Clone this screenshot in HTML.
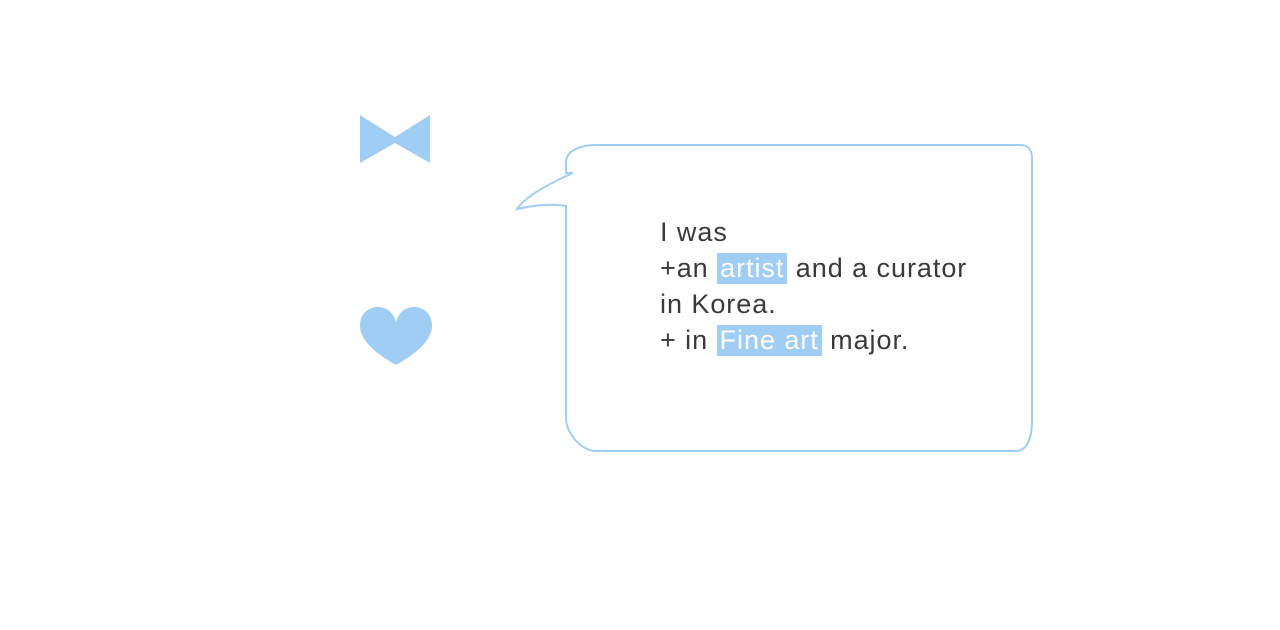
<!DOCTYPE html>
<html><head><style>
html,body{margin:0;padding:0;background:#fff;width:1280px;height:630px;overflow:hidden}
.t{position:absolute;left:660px;top:214px;font-family:"Liberation Sans",sans-serif;font-size:27px;line-height:36px;color:#3a3a3a;letter-spacing:0.95px;word-spacing:0px;white-space:nowrap}
.h{background:#a0cdf4;color:#fff;padding:0 3px 1px 3px}
</style></head><body>
<svg width="1280" height="630" style="position:absolute;left:0;top:0">
<polygon points="360,115 395,137 430,115 430,163 395,143 360,163" fill="#a0cdf4"/>
<path d="M396,365 C380,356 360,342 360,326 C360,312 370,307 378,307 C388,307 394,314 396,322 C398,314 404,307 414,307 C422,307 432,312 432,326 C432,342 412,356 396,365 Z" fill="#a0cdf4"/>
<path d="M573,173 L566,173 L566,162 C566,152 578,145 596,145 L1020,145 C1028,145 1032,150 1032,158 L1032,420 C1032,440 1026,451 1016,451 L596,451 C582,451 566,434 566,418 L566,206 C552,203 530,206 517,209 C526,196 548,184 573,173" fill="none" stroke="#a0cdf4" stroke-width="2"/>
</svg>
<div class="t">I was<br>+an <span class="h">artist</span> and a curator<br>in Korea.<br>+ in <span class="h">Fine art</span> major.</div>
</body></html>
